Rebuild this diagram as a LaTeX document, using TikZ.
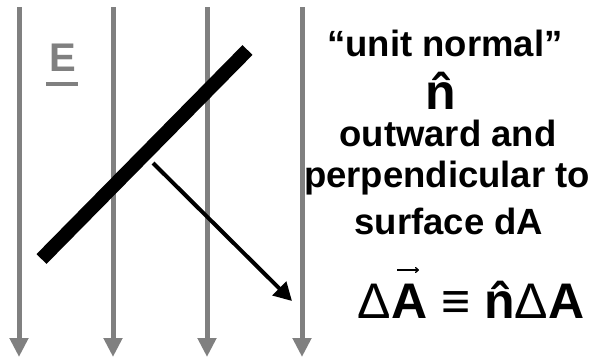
\documentclass[tikz,border=0pt]{standalone}
\usepackage{fontspec}
\setmainfont{Liberation Sans}
\usetikzlibrary{arrows.meta}

\definecolor{fieldgray}{RGB}{128,128,128}
\newcommand\nhat{\ooalign{n\cr\hidewidth\char"02C6\hidewidth\cr}}

\begin{document}
\begin{tikzpicture}[x=1pt, y=-1pt, line join=miter,
  fieldline/.style={draw=fieldgray, line width=5pt, -{Triangle[length=19pt,width=18pt]}},
  plate/.style={line width=14pt, line cap=butt},
  normalvec/.style={line width=4pt, -{Triangle[length=18pt,width=19pt]}},
  vecbar/.style={line width=1.3pt, -{To[length=4pt,width=6pt]}},
  txt/.style={font=\fontsize{36.5}{44}\selectfont\bfseries, inner sep=0pt, anchor=base}]

% ----------------- Frame (picture size in pixels) -----------------
\useasboundingbox (0,0) rectangle (598,357);

% ----------------- Parameters -----------------
\def\ytop{7}      % top of the field lines
\def\ybot{357}    % tips of the field arrows

% Key points
\coordinate (PlateLo) at (41.5,259);   % lower-left end of the surface
\coordinate (PlateHi) at (247.5,50);   % upper-right end of the surface
\coordinate (NStart)  at (153,163);    % foot of the unit normal
\coordinate (NTip)    at (292,301);    % tip of the unit normal

% ----------------- Field lines -----------------
\foreach \x in {19,113,207,302}
  \draw[fieldline] (\x,\ytop) -- (\x,\ybot);

% field label (underlined E)
\node[txt, font=\fontsize{40}{48}\selectfont\bfseries, text=fieldgray] (Elbl) at (62.5,71) {E};
\draw[fieldgray, line width=4pt] (46,84) -- (78,84);

% ----------------- Surface and normal -----------------
\draw[plate] (PlateLo) -- (PlateHi);
\draw[normalvec] (NStart) -- (NTip);

% ----------------- Text -----------------
\node[txt] (title) at (445,56) {“unit normal”};
\node[txt, font=\fontsize{50}{60}\selectfont\bfseries] (nhat) at (441,109) {\nhat};
\node[txt] (line1) at (448,146.5) {outward and};
\node[txt] (line2) at (447,187.5) {perpendicular to};
\node[txt] (line3) at (449,234) {surface dA};

% ----------------- Definition -----------------
\node[txt, font=\fontsize{50}{60}\selectfont\bfseries] (eqn) at (471,318)
  {{\mdseries Δ}A ≡ \nhat{\mdseries Δ}A};
% vector arrow over the first A
\coordinate (VecL) at (397,270);
\coordinate (VecR) at (419,270);
\draw[vecbar] (VecL) -- (VecR);

\end{tikzpicture}
\end{document}
